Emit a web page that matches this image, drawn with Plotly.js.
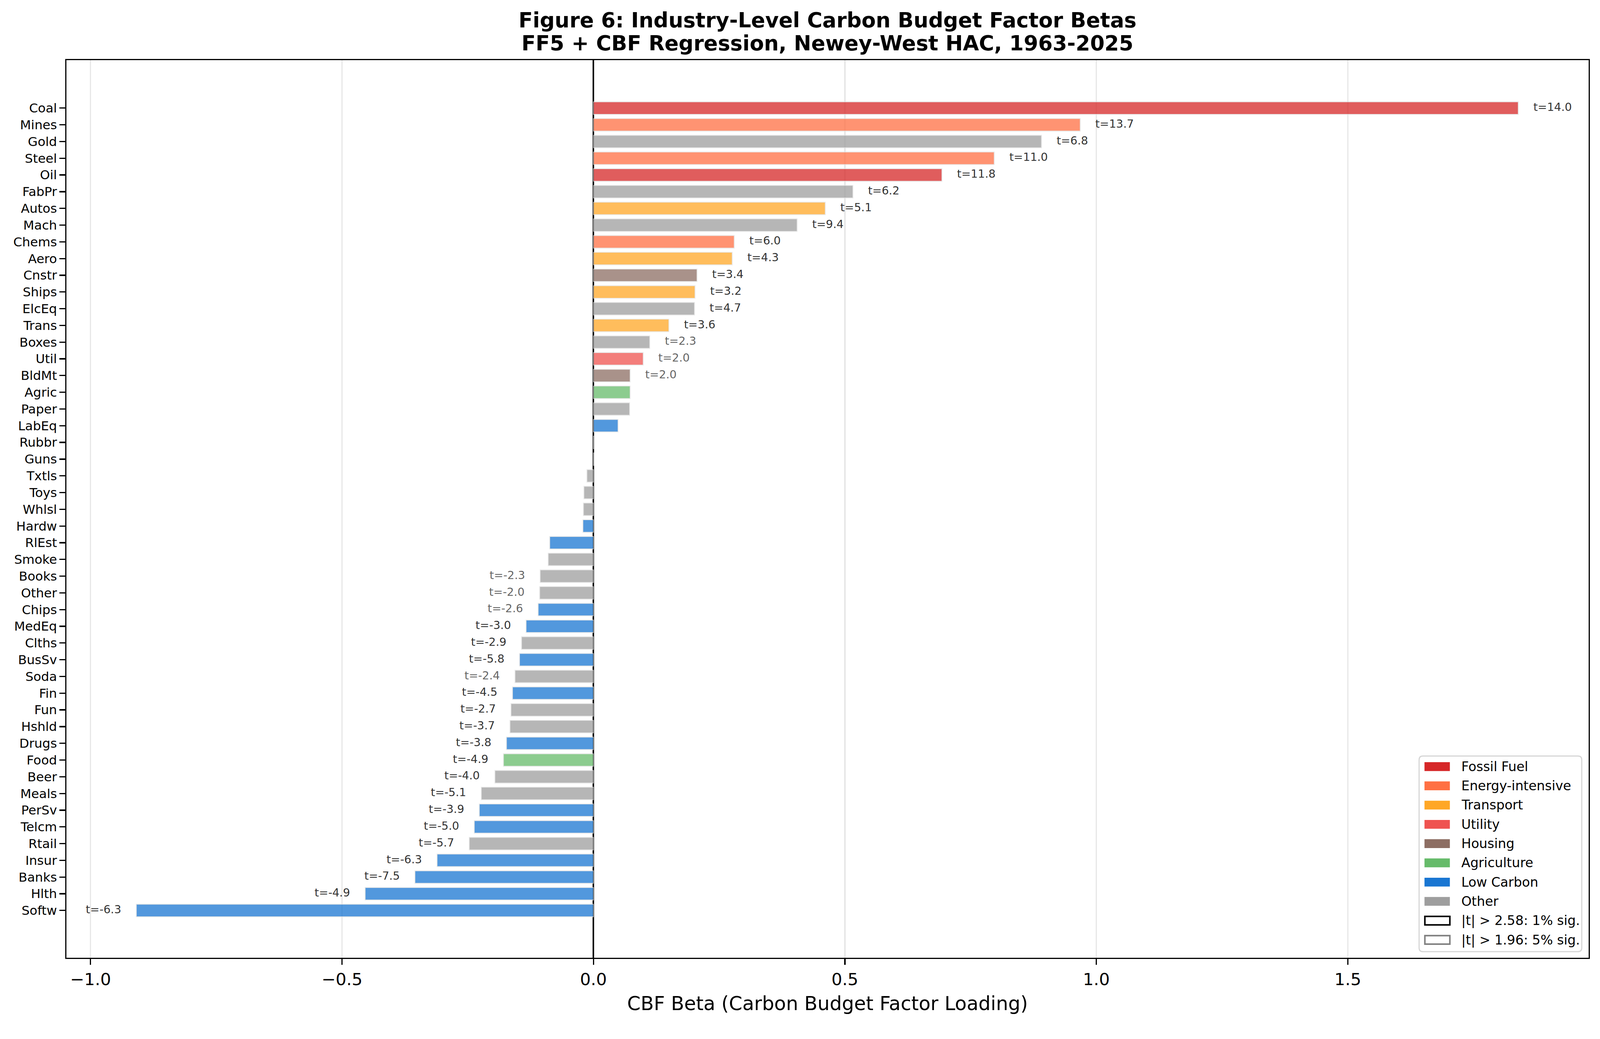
<!DOCTYPE html>
<html>
<head>
<meta charset="utf-8">
<script src="https://cdn.plot.ly/plotly-3.0.1.min.js"></script>
<style>
  html, body { margin: 0; padding: 0; background: #fff; overflow: hidden; }
  #plot { position: absolute; left: 0; top: 0; }
</style>
</head>
<body>
<div id="plot"></div>
<script>
// industries sorted by CBF beta, top to bottom
var industries = ['Coal', 'Mines', 'Gold', 'Steel', 'Oil', 'FabPr', 'Autos', 'Mach', 'Chems', 'Aero',
  'Cnstr', 'Ships', 'ElcEq', 'Trans', 'Boxes', 'Util', 'BldMt', 'Agric', 'Paper', 'LabEq',
  'Rubbr', 'Guns', 'Txtls', 'Toys', 'Whlsl', 'Hardw', 'RlEst', 'Smoke', 'Books', 'Other',
  'Chips', 'MedEq', 'Clths', 'BusSv', 'Soda', 'Fin', 'Fun', 'Hshld', 'Drugs', 'Food',
  'Beer', 'Meals', 'PerSv', 'Telcm', 'Rtail', 'Insur', 'Banks', 'Hlth', 'Softw'];

var betas = [1.839, 0.968, 0.891, 0.797, 0.693, 0.516, 0.461, 0.405, 0.280, 0.276,
  0.206, 0.202, 0.201, 0.150, 0.112, 0.099, 0.073, 0.073, 0.072, 0.049,
  0.002, 0.0005, -0.013, -0.019, -0.020, -0.021, -0.087, -0.090, -0.106, -0.107,
  -0.110, -0.134, -0.143, -0.147, -0.156, -0.161, -0.164, -0.166, -0.173, -0.179,
  -0.196, -0.223, -0.227, -0.237, -0.247, -0.311, -0.355, -0.454, -0.909];

// Newey-West t-stats (null = not significant, no label drawn)
var tstats = [14.0, 13.7, 6.8, 11.0, 11.8, 6.2, 5.1, 9.4, 6.0, 4.3,
  3.4, 3.2, 4.7, 3.6, 2.3, 2.0, 2.0, null, null, null,
  null, null, null, null, null, null, null, null, -2.3, -2.0,
  -2.57, -3.0, -2.9, -5.8, -2.4, -4.5, -2.7, -3.7, -3.8, -4.9,
  -4.0, -5.1, -3.9, -5.0, -5.7, -6.3, -7.5, -4.9, -6.3];

var groups = ['Fossil Fuel', 'Energy-intensive', 'Other', 'Energy-intensive', 'Fossil Fuel', 'Other', 'Transport', 'Other', 'Energy-intensive', 'Transport',
  'Housing', 'Transport', 'Other', 'Transport', 'Other', 'Utility', 'Housing', 'Agriculture', 'Other', 'Low Carbon',
  'Other', 'Other', 'Other', 'Other', 'Other', 'Low Carbon', 'Low Carbon', 'Other', 'Other', 'Other',
  'Low Carbon', 'Low Carbon', 'Other', 'Low Carbon', 'Other', 'Low Carbon', 'Other', 'Other', 'Low Carbon', 'Agriculture',
  'Other', 'Other', 'Low Carbon', 'Low Carbon', 'Other', 'Low Carbon', 'Low Carbon', 'Low Carbon', 'Low Carbon'];

var groupNames = ['Fossil Fuel', 'Energy-intensive', 'Transport', 'Utility', 'Housing', 'Agriculture', 'Low Carbon', 'Other'];
var groupColors = ['#d62728', '#ff7043', '#ffa726', '#ef5350', '#8d6e63', '#66bb6a', '#1976d2', '#9e9e9e'];

var sigNames = ['|t| > 2.58: 1% sig.', '|t| > 1.96: 5% sig.'];
var sigColors = ['#000000', '#808080'];

var titleLines = ['Figure 6: Industry-Level Carbon Budget Factor Betas',
  'FF5 + CBF Regression, Newey-West HAC, 1963-2025'];

var FONT = 'DejaVu Sans, sans-serif';

// the design is laid out for 4161x2661; scale it to whatever the viewport really is
var W0 = 4161, H0 = 2661;
var W = window.innerWidth || W0;
var H = window.innerHeight || H0;
var s = Math.min(W / W0, H / H0);
W = Math.round(W0 * s);
H = Math.round(H0 * s);

var barColors = groups.map(function(g) { return groupColors[groupNames.indexOf(g)]; });

var barTrace = {
  type: 'bar',
  orientation: 'h',
  x: betas,
  y: industries,
  width: 0.75,
  marker: {
    color: barColors,
    opacity: 0.75,
    line: { color: '#e0e0e0', width: 2 * s }
  },
  hoverinfo: 'skip',
  showlegend: false
};

// t-stat labels next to each significant bar
var lx = [], ly = [], lt = [], lpos = [], lcol = [];
for (var i = 0; i < industries.length; i++) {
  var t = tstats[i];
  if (t === null || Math.abs(t) <= 1.96) continue;
  var b = betas[i];
  lx.push(b >= 0 ? b + 0.03 : b - 0.03);
  ly.push(industries[i]);
  lt.push('t=' + t.toFixed(1));
  lpos.push(b >= 0 ? 'middle right' : 'middle left');
  lcol.push(Math.abs(t) > 2.58 ? '#333333' : '#666666');
}
var labelTrace = {
  type: 'scatter',
  mode: 'text',
  x: lx,
  y: ly,
  text: lt,
  textposition: lpos,
  textfont: { family: FONT, size: 29 * s, color: lcol },
  hoverinfo: 'skip',
  showlegend: false,
  cliponaxis: false
};

// plot area in design pixels, used to place the hand drawn legend
var PL = 173, PR = 4132, PT = 156, PB = 2492;
function px(x) { return (x - PL) / (PR - PL); }
function py(y) { return (PB - y) / (PB - PT); }

var shapes = [];
var annotations = [];

// legend frame with rounded corners
function roundRect(x0, y0, x1, y1, r) {
  var ax0 = px(x0), ax1 = px(x1), ay0 = py(y1), ay1 = py(y0);
  var rx = r / (PR - PL), ry = r / (PB - PT);
  return 'M ' + (ax0 + rx) + ' ' + ay0 +
    ' L ' + (ax1 - rx) + ' ' + ay0 + ' Q ' + ax1 + ' ' + ay0 + ' ' + ax1 + ' ' + (ay0 + ry) +
    ' L ' + ax1 + ' ' + (ay1 - ry) + ' Q ' + ax1 + ' ' + ay1 + ' ' + (ax1 - rx) + ' ' + ay1 +
    ' L ' + (ax0 + rx) + ' ' + ay1 + ' Q ' + ax0 + ' ' + ay1 + ' ' + ax0 + ' ' + (ay1 - ry) +
    ' L ' + ax0 + ' ' + (ay0 + ry) + ' Q ' + ax0 + ' ' + ay0 + ' ' + (ax0 + rx) + ' ' + ay0 + ' Z';
}
shapes.push({
  type: 'path', xref: 'paper', yref: 'paper',
  path: roundRect(3691, 1967, 4114, 2476, 10),
  line: { color: '#d6d6d6', width: 3 * s }, fillcolor: 'rgba(255,255,255,0.8)', layer: 'above'
});

var legendLabels = groupNames.concat(sigNames);
for (var k = 0; k < legendLabels.length; k++) {
  var cy = 1994.5 + k * 50.1;
  if (k < groupNames.length) {
    shapes.push({
      type: 'rect', xref: 'paper', yref: 'paper',
      x0: px(3705), x1: px(3771), y0: py(cy + 11.5), y1: py(cy - 11.5),
      line: { width: 0 }, fillcolor: groupColors[k], layer: 'above'
    });
  } else {
    shapes.push({
      type: 'rect', xref: 'paper', yref: 'paper',
      x0: px(3706), x1: px(3771), y0: py(cy + 11), y1: py(cy - 11),
      line: { width: 4 * s, color: sigColors[k - groupNames.length] }, fillcolor: '#ffffff', layer: 'above'
    });
  }
  annotations.push({
    xref: 'paper', yref: 'paper', x: px(3799), y: py(cy),
    xanchor: 'left', yanchor: 'middle', showarrow: false,
    text: legendLabels[k],
    font: { family: FONT, size: 34 * s, color: '#000000' }
  });
}

// second title line
annotations.push({
  xref: 'paper', yref: 'paper', x: 0.5, y: py(112),
  xanchor: 'center', yanchor: 'middle', showarrow: false,
  text: '<b>' + titleLines[1] + '</b>',
  font: { family: FONT, size: 54 * s, color: '#000000' }
});

var layout = {
  width: W,
  height: H,
  margin: { l: PL * s, r: (W0 - PR) * s, t: PT * s, b: (H0 - PB) * s, pad: 0 },
  paper_bgcolor: '#ffffff',
  plot_bgcolor: '#ffffff',
  font: { family: FONT, color: '#000000' },
  title: {
    text: '<b>' + titleLines[0] + '</b>',
    font: { family: FONT, size: 54 * s, color: '#000000' },
    x: 0.5, xref: 'paper', xanchor: 'center',
    y: 1 - 52 / H0, yref: 'container', yanchor: 'middle'
  },
  xaxis: {
    range: [-1.048, 1.979],
    tick0: 0,
    dtick: 0.5,
    tickformat: '.1f',
    showgrid: true,
    gridcolor: 'rgba(176,176,176,0.3)',
    gridwidth: 3.3 * s,
    zeroline: true,
    zerolinecolor: '#000000',
    zerolinewidth: 4.2 * s,
    showline: true,
    linecolor: '#000000',
    linewidth: 3.3 * s,
    mirror: true,
    ticks: 'outside',
    ticklen: 14.6 * s,
    tickwidth: 3.3 * s,
    tickcolor: '#000000',
    tickfont: { family: FONT, size: 44 * s, color: '#000000' },
    layer: 'above traces',
    title: {
      text: 'CBF Beta (Carbon Budget Factor Loading)',
      font: { family: FONT, size: 50 * s, color: '#000000' },
      standoff: 22 * s
    }
  },
  yaxis: {
    type: 'category',
    categoryorder: 'array',
    categoryarray: industries,
    range: [50.83, -2.87],
    showgrid: false,
    zeroline: false,
    showline: true,
    linecolor: '#000000',
    linewidth: 3.3 * s,
    mirror: true,
    ticks: 'outside',
    ticklen: 14.6 * s,
    tickwidth: 3.3 * s,
    tickcolor: '#000000',
    tickfont: { family: FONT, size: 33 * s, color: '#000000' },
    layer: 'above traces'
  },
  shapes: shapes,
  annotations: annotations,
  showlegend: false
};

Plotly.newPlot('plot', [barTrace, labelTrace], layout, { displayModeBar: false, staticPlot: true });
</script>
</body>
</html>
